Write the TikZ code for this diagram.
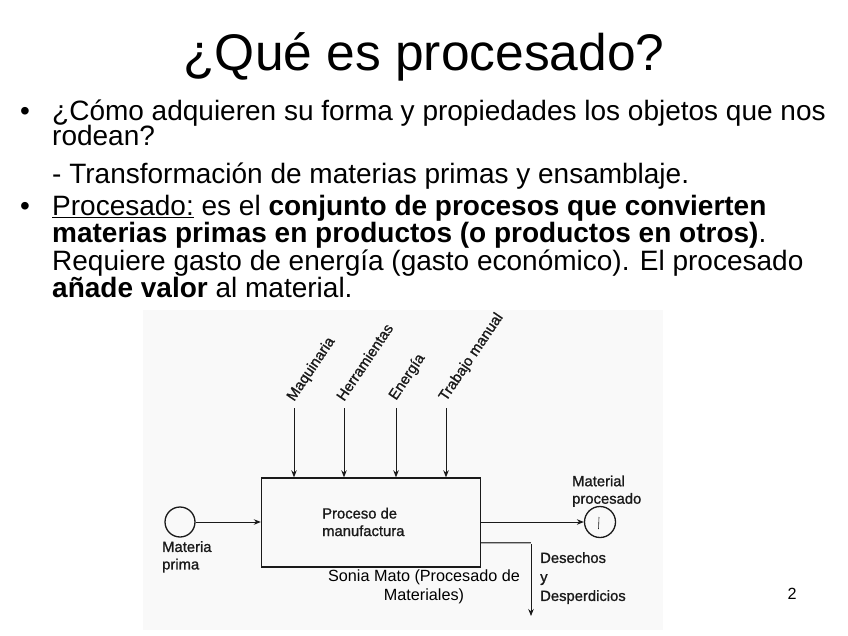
\documentclass[tikz,border=0pt]{standalone}
\usepackage{fontspec}
\setmainfont{Liberation Sans}
\newfontfamily\diagfont{Liberation Sans}[FakeBold=1.1]
\usetikzlibrary{arrows.meta}
\definecolor{scanbg}{HTML}{F9F9F9}
\definecolor{ink}{HTML}{1A1A1A}
\tikzset{
  body/.style={anchor=base west, inner sep=0pt, font=\fontsize{28}{30}\selectfont},
  bul/.style={anchor=base west, inner sep=0pt, font=\fontsize{28}{30}\selectfont},
  dlabel/.style={inner sep=0pt, font=\diagfont\fontsize{14.8}{17.5}\selectfont, text=ink},
  rlabel/.style={dlabel, anchor=base west, rotate=56},
  flow/.style={draw=ink, line width=0.9pt, -{Stealth[length=7pt,width=5.5pt]}},
  foot/.style={inner sep=0pt, font=\fontsize{16.2}{18.5}\selectfont}
}
\begin{document}
\begin{tikzpicture}[x=1pt,y=-1pt]
\useasboundingbox (0,0) rectangle (848,636);
\fill[white] (0,0) rectangle (848,636);
% title
\node[anchor=base, inner sep=0pt, font=\fontsize{51.5}{55}\selectfont] (title) at (424,71) {¿Qué es procesado?};
% bullets
\node[bul] (b1) at (20,121) {\textbullet};
\node[body] (l1) at (52,121) {¿Cómo adquieren su forma y propiedades los objetos que nos};
\node[body] (l2) at (52,146) {rodean?};
\node[body] (l3) at (52,184) {- Transformación de materias primas y ensamblaje.};
\node[bul] (b2) at (20,216) {\textbullet};
\node[body] (l4) at (52,216) {\underline{Procesado:} es el \textbf{conjunto de procesos que convierten}};
\node[body] (l5) at (52,243) {\textbf{materias primas en productos (o productos en otros)}.};
\node[body] (l6) at (52,270) {Requiere gasto de energía (gasto económico). El procesado};
\node[body] (l7) at (52,297) {\textbf{añade valor} al material.};
% diagram background
\fill[scanbg] (143,310) rectangle (663,630);
% process box
\node[draw=ink, line width=1.4pt, minimum width=219pt, minimum height=89pt, inner sep=0pt] (box) at (371,522.5) {};
\node[dlabel, align=left, anchor=west] (boxtxt) at (322,522) {Proceso de\\manufactura};
% top inputs
\coordinate (t1) at (294,408);
\coordinate (t2) at (344,408);
\coordinate (t3) at (396,408);
\coordinate (t4) at (446,408);
\draw[flow] (t1) -- (t1 |- box.north);
\draw[flow] (t2) -- (t2 |- box.north);
\draw[flow] (t3) -- (t3 |- box.north);
\draw[flow] (t4) -- (t4 |- box.north);
\node[rlabel] (lm) at (294,402) {Maquinaria};
\node[rlabel] (lh) at (344,402) {Herramientas};
\node[rlabel] (le) at (396,401) {Energía};
\node[rlabel] (lt) at (446,402) {Trabajo manual};
% raw material
\node[draw=ink, line width=1.3pt, circle, minimum size=30pt, inner sep=0pt] (mp) at (180,522) {};
\node[dlabel, align=left, anchor=north west] (mptxt) at (162,541) {Materia\\prima};
\draw[flow] (mp.east) -- (box.west |- mp.east);
% processed material
\node[draw=ink, line width=1.3pt, circle, minimum size=31pt, inner sep=0pt] (mo) at (600,522) {};
\draw[ink, line width=0.6pt] (599,517) -- (598.5,529);
\node[dlabel, align=left, anchor=south west] (motxt) at (572,507) {Material\\procesado};
\draw[flow] (box.east |- mo.west) -- (mo.west);
% waste
\coordinate (wcorner) at (531,543);
\coordinate (wend) at (531,616);
\draw[ink!80, double=gray!60, double distance=0.8pt, line width=0.6pt] (box.east |- wcorner) -- (wcorner);
\draw[flow] ([yshift=-1pt]wcorner) -- (wend);
\node[dlabel, align=left, anchor=north west, font=\diagfont\fontsize{14.8}{19}\selectfont] (wtxt) at (540,552) {Desechos\\y\\Desperdicios};
% footer
\node[foot, align=center, anchor=base] (f1) at (424,600) {Sonia Mato (Procesado de\\Materiales)};
\node[foot, anchor=base] (pg) at (792,599) {2};
\end{tikzpicture}
\end{document}
